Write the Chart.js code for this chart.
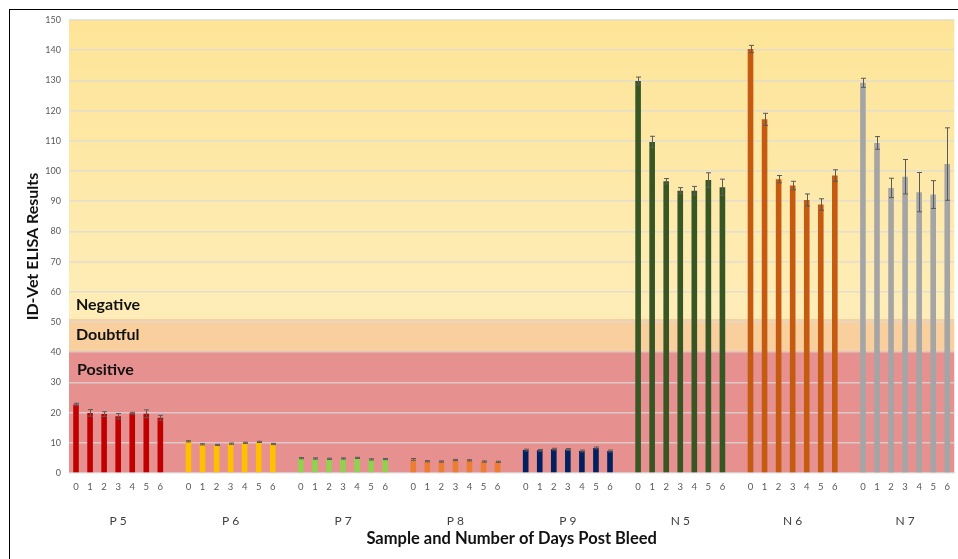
<!DOCTYPE html>
<html>
<head>
<meta charset="utf-8">
<script src="https://cdn.jsdelivr.net/npm/chart.js@4/dist/chart.umd.min.js"></script>
<style>
    html, body { margin: 0; padding: 0; background: #fff; }
    #wrap { position: relative; width: 958px; height: 559px; overflow: hidden; }
    #frame { position: absolute; left: 9px; top: 9px; right: -5px; bottom: -5px; border-top: 1px solid #000; border-left: 1px solid #000; pointer-events: none; }
</style>
</head>
<body>
<div id="wrap">
    <canvas id="elisa-chart" width="958" height="559"></canvas>
    <div id="frame"></div>
</div>
<script>
// days post bleed and sample names
const days = ['0', '1', '2', '3', '4', '5', '6'];
const sampleNames = ['P 5', 'P 6', 'P 7', 'P 8', 'P 9', 'N 5', 'N 6', 'N 7'];

// ELISA results (S/N %) per sample, day 0..6
const p5 = [22.7, 19.9, 19.5, 18.8, 19.8, 19.6, 18.3];
const p6 = [10.5, 9.5, 9.3, 9.7, 10.0, 10.3, 9.6];
const p7 = [4.9, 4.8, 4.7, 4.8, 5.0, 4.5, 4.6];
const p8 = [4.5, 3.9, 3.8, 4.3, 4.2, 3.8, 3.7];
const p9 = [7.6, 7.5, 7.9, 7.8, 7.3, 8.3, 7.3];
const n5 = [129.8, 109.6, 96.6, 93.5, 93.5, 97.0, 94.6];
const n6 = [140.4, 117.1, 97.3, 95.2, 90.4, 88.9, 98.5];
const n7 = [129.2, 109.3, 94.4, 98.1, 93.0, 92.2, 102.3];

// error bar half-widths
const p5Err = [0.4, 1.1, 0.8, 0.9, 0.3, 1.3, 0.8];
const p6Err = [0.2, 0.2, 0.2, 0.2, 0.2, 0.2, 0.2];
const p7Err = [0.2, 0.2, 0.2, 0.2, 0.2, 0.2, 0.2];
const p8Err = [0.3, 0.2, 0.2, 0.2, 0.2, 0.2, 0.2];
const p9Err = [0.3, 0.3, 0.3, 0.3, 0.3, 0.3, 0.3];
const n5Err = [1.3, 1.9, 0.9, 1.0, 1.4, 2.4, 2.7];
const n6Err = [1.2, 2.0, 1.2, 1.4, 2.0, 1.9, 1.9];
const n7Err = [1.5, 2.1, 3.2, 5.7, 6.5, 4.6, 12.0];

const sampleColors = ['#c00000', '#ffc000', '#92d050', '#ed7d31', '#002060', '#375623', '#c55a11', '#a5a5a5'];

// result bands (cut-offs on the y axis)
const positiveMax = 40.4;
const doubtfulMax = 51;
const yMax = 150;

const sampleValues = [p5, p6, p7, p8, p9, n5, n6, n7];
const sampleErrors = [p5Err, p6Err, p7Err, p8Err, p9Err, n5Err, n6Err, n7Err];

// flatten into one category axis with an empty slot between samples
const labels = [];
const barValues = [];
const barErrors = [];
const barColors = [];
const groupCenters = [];

sampleNames.forEach((name, s) => {
    if (s > 0) {
        labels.push('');
        barValues.push(null);
        barErrors.push(null);
        barColors.push('rgba(0,0,0,0)');
    }
    days.forEach((day, d) => {
        if (d === 3) groupCenters.push(labels.length);
        labels.push(day);
        barValues.push(sampleValues[s][d]);
        barErrors.push(sampleErrors[s][d]);
        barColors.push(sampleColors[s]);
    });
});

const FONT = 'Lato, "DejaVu Sans", sans-serif';

const bandsPlugin = {
    id: 'bands',
    beforeDraw(chart) {
        const { ctx, chartArea } = chart;
        const y = chart.scales.y;
        const left = chartArea.left;
        const width = chartArea.right - chartArea.left;
        const yTop = y.getPixelForValue(yMax);
        const yDoubt = y.getPixelForValue(doubtfulMax);
        const yPos = y.getPixelForValue(positiveMax);
        const yZero = y.getPixelForValue(0);

        ctx.save();
        const grad = ctx.createLinearGradient(0, yTop, 0, yDoubt);
        grad.addColorStop(0, '#fde497');
        grad.addColorStop(1, '#feedb8');
        ctx.fillStyle = grad;
        ctx.fillRect(left, yTop, width, yDoubt - yTop);
        ctx.fillStyle = '#f9d09d';
        ctx.fillRect(left, yDoubt, width, yPos - yDoubt);
        ctx.fillStyle = '#e69090';
        ctx.fillRect(left, yPos, width, yZero - yPos);
        ctx.restore();
    },
    afterDraw(chart) {
        const { ctx, chartArea } = chart;
        const y = chart.scales.y;
        const x = chart.scales.x;
        ctx.save();
        // band names
        ctx.font = 'bold 16px ' + FONT;
        ctx.fillStyle = '#111';
        ctx.textAlign = 'left';
        ctx.textBaseline = 'middle';
        ctx.fillText('Negative', chartArea.left + 7, y.getPixelForValue(55.6));
        ctx.fillText('Doubtful', chartArea.left + 7, y.getPixelForValue(45.7));
        ctx.fillText('Positive', chartArea.left + 8, y.getPixelForValue(34.3));

        // sample names under the day numbers
        ctx.font = '12px ' + FONT;
        ctx.fillStyle = '#404040';
        ctx.textAlign = 'center';
        sampleNames.forEach((name, s) => {
            ctx.fillText(name, x.getPixelForValue(groupCenters[s]), x.top + 48);
        });
        ctx.restore();
    }
};

const errorBarsPlugin = {
    id: 'errorBars',
    afterDatasetsDraw(chart) {
        const { ctx } = chart;
        const y = chart.scales.y;
        const meta = chart.getDatasetMeta(0);
        ctx.save();
        ctx.strokeStyle = '#5a5a5a';
        ctx.lineWidth = 1;
        meta.data.forEach((bar, i) => {
            const v = barValues[i];
            const e = barErrors[i];
            if (v === null || e === null) return;
            const bx = Math.round(bar.x) + 0.5;
            const top = y.getPixelForValue(v + e);
            const bottom = y.getPixelForValue(v - e);
            ctx.beginPath();
            ctx.moveTo(bx, top);
            ctx.lineTo(bx, bottom);
            ctx.moveTo(bx - 2.5, top);
            ctx.lineTo(bx + 2.5, top);
            ctx.moveTo(bx - 2.5, bottom);
            ctx.lineTo(bx + 2.5, bottom);
            ctx.stroke();
        });
        ctx.restore();
    }
};

const ctx = document.getElementById('elisa-chart').getContext('2d');
const chart = new Chart(ctx, {
    type: 'bar',
    data: {
        labels: labels,
        datasets: [{
            data: barValues,
            backgroundColor: barColors,
            barPercentage: 0.4,
            categoryPercentage: 1.0
        }]
    },
    options: {
        responsive: false,
        animation: false,
        layout: { padding: { left: 0, right: 0, top: 20, bottom: 0 } },
        plugins: {
            legend: { display: false },
            tooltip: { enabled: false }
        },
        scales: {
            x: {
                grid: { display: false, drawTicks: false },
                border: { display: false },
                ticks: {
                    autoSkip: false,
                    maxRotation: 0,
                    padding: 8,
                    color: '#595959',
                    font: { family: FONT, size: 9.5 }
                },
                title: {
                    display: true,
                    text: 'Sample and Number of Days Post Bleed',
                    color: '#111',
                    font: { family: FONT, size: 16.5, weight: 'bold' },
                    padding: { top: 0, bottom: 10 }
                },
                afterFit(scale) { scale.height = 86; }
            },
            y: {
                min: 0,
                max: yMax,
                grid: { color: 'rgba(218,218,218,0.75)', lineWidth: 1.5, drawTicks: false },
                border: { display: false },
                ticks: {
                    stepSize: 10,
                    padding: 8,
                    color: '#595959',
                    font: { family: FONT, size: 9 }
                },
                title: {
                    display: true,
                    text: 'ID-Vet ELISA Results',
                    color: '#111',
                    font: { family: FONT, size: 16, weight: 'bold' },
                    padding: { top: 23, bottom: 0 }
                },
                afterFit(scale) { scale.width = 69; }
            }
        }
    },
    plugins: [bandsPlugin, errorBarsPlugin]
});
</script>
</body>
</html>
